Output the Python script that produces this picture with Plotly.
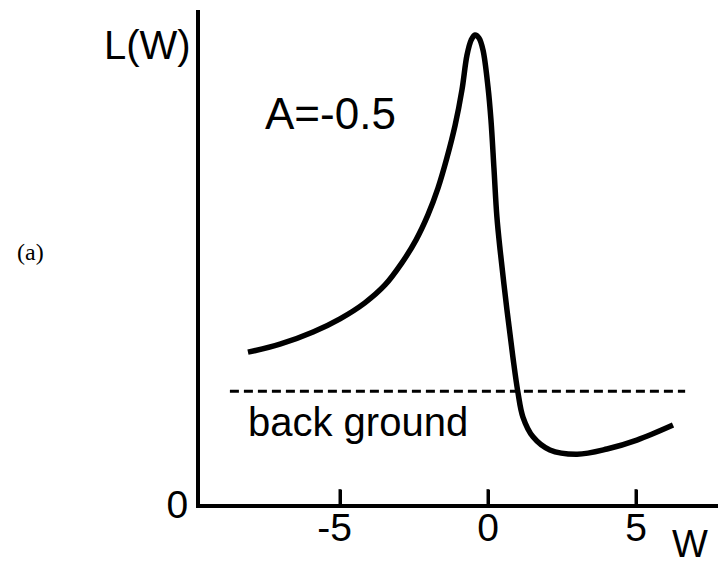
import plotly.graph_objects as go

# Spectral line shape L(W) for asymmetry A = -0.5 (arbitrary units, peak ~ 1)
w_values = [-8.11, -7.03, -5.91, -5.00, -4.16, -3.48, -2.91, -2.43, -2.03, -1.69,
            -1.39, -1.11, -0.88, -0.71, -0.57, -0.44, -0.30, -0.17, 0.00, 0.10,
            0.20, 0.30, 0.41, 0.64, 0.84, 1.01, 1.18, 1.52, 2.09, 3.01,
            4.02, 5.03, 6.25]
l_values = [0.323, 0.340, 0.366, 0.394, 0.428, 0.466, 0.513, 0.562, 0.615, 0.672,
            0.736, 0.806, 0.881, 0.955, 0.987, 0.998, 0.991, 0.966, 0.887, 0.817,
            0.715, 0.611, 0.540, 0.413, 0.313, 0.238, 0.185, 0.143, 0.115, 0.106,
            0.117, 0.136, 0.168]

# Background level
background_w = [-8.72, 6.66]
background_level = [0.240, 0.240]

x_tick_vals = [-5, 0, 5]
x_tick_text = ["-5\u00a0", "0", "5"]
y_tick_vals = [0]
y_tick_text = ["0"]

TICK_FRAC = 0.03  # tick mark height as a fraction of the plot height
SANS = "Liberation Sans"
SERIF = "Liberation Serif"

fig = go.Figure()

fig.add_trace(go.Scatter(
    x=w_values, y=l_values, mode="lines",
    line=dict(color="black", width=5.5, shape="spline", smoothing=1.0),
    showlegend=False, hoverinfo="skip",
))

fig.add_trace(go.Scatter(
    x=background_w, y=background_level, mode="lines",
    line=dict(color="black", width=3, dash="9px,5px"),
    showlegend=False, hoverinfo="skip",
))

# upward tick marks standing on the W axis
tick_shapes = [
    dict(type="line", xref="x", yref="paper", x0=v, x1=v,
         y0=0, y1=TICK_FRAC, layer="above",
         line=dict(color="black", width=3))
    for v in x_tick_vals
]

fig.update_layout(
    width=718, height=562,
    margin=dict(l=200, r=0, t=10, b=58, autoexpand=False),
    paper_bgcolor="white", plot_bgcolor="white",
    font=dict(family=SANS, color="black"),
    xaxis=dict(
        range=[-9.73, 7.77],
        showgrid=False, zeroline=False,
        showline=True, linecolor="black", linewidth=4,
        tickmode="array", tickvals=x_tick_vals, ticktext=x_tick_text,
        ticks="inside", ticklen=14, tickwidth=3, tickcolor="black",
        tickfont=dict(family=SANS, size=39, color="black"),
        ticklabelstandoff=-14,
    ),
    yaxis=dict(
        range=[0, 1.051],
        showgrid=False, zeroline=False,
        showline=True, linecolor="black", linewidth=4,
        tickmode="array", tickvals=y_tick_vals, ticktext=y_tick_text,
        ticks="",
        tickfont=dict(family=SANS, size=39, color="black"),
    ),
    shapes=tick_shapes,
    annotations=[
        dict(text="L(W)", xref="paper", yref="paper", x=-0.102, y=0.93,
             xanchor="center", yanchor="middle", showarrow=False,
             font=dict(family=SANS, size=40, color="black")),
        dict(text="W", xref="paper", yref="paper", x=0.945, y=-0.08,
             xanchor="center", yanchor="middle", showarrow=False,
             font=dict(family=SANS, size=38, color="black")),
        dict(text="A=-0.5", xref="x", yref="y", x=-5.33, y=0.83,
             xanchor="center", yanchor="middle", showarrow=False,
             font=dict(family=SANS, size=44, color="black")),
        dict(text="back ground", xref="x", yref="y", x=-4.4, y=0.175,
             xanchor="center", yanchor="middle", showarrow=False,
             font=dict(family=SANS, size=40, color="black")),
        dict(text="(a)", xref="paper", yref="paper", x=-0.328, y=0.51,
             xanchor="center", yanchor="middle", showarrow=False,
             font=dict(family=SERIF, size=24, color="black")),
    ],
)

fig.write_html("out.html")
